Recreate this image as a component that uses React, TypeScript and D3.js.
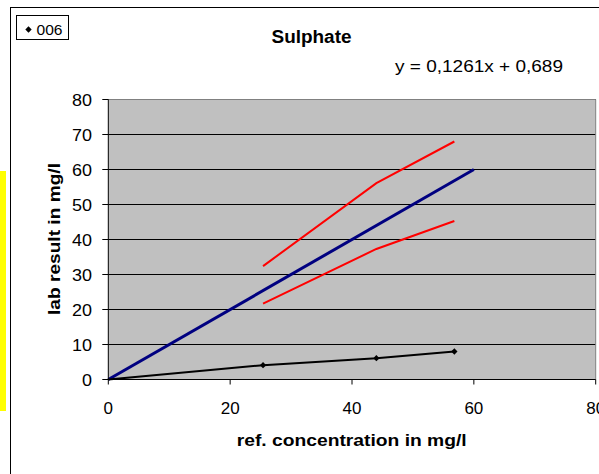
import React from "react";
import * as d3 from "d3";

const xTicks = [0, 20, 40, 60, 80];
const yTicks = [0, 10, 20, 30, 40, 50, 60, 70, 80];

const measuredX = [0, 25.4, 44.0, 56.8];
const measuredY = [0, 4.1, 6.1, 8.0];
const markerIdx = [1, 2, 3];

const idealX = [0, 60];
const idealY = [0, 60];

const upperX = [25.4, 44.0, 56.8];
const upperY = [32.4, 56.1, 68.0];

const lowerX = [25.4, 44.0, 56.8];
const lowerY = [21.7, 37.3, 45.3];

const titleText = "Sulphate";
const equationText = "y = 0,1261x + 0,689";
const xTitle = "ref. concentration in mg/l";
const yTitle = "lab result in mg/l";
const legendLabel = "006";

const FONT = "'Liberation Sans', Arial, sans-serif";

export default function App() {
  const W = 599, H = 474;
  const x = d3.scaleLinear().domain([0, 80]).range([108.3, 595.7]);
  const y = d3.scaleLinear().domain([0, 80]).range([379.5, 99.5]);

  const line = d3
    .line<[number, number]>()
    .x((d) => x(d[0]))
    .y((d) => y(d[1]));

  const pts = (xs: number[], ys: number[]) => xs.map((v, i) => [v, ys[i]] as [number, number]);

  const diamond = d3.symbol().type(d3.symbolSquare).size(20)();

  const left = x(0), right = x(80), top = y(80), bottom = y(0);

  return (
    <svg
      width={W}
      height={H}
      style={{ position: "absolute", left: 0, top: 0, background: "#fff" }}
      fontFamily={FONT}
    >
      <rect x={0} y={0} width={W} height={H} fill="#fff" />
      {/* yellow strip */}
      <rect x={0} y={171} width={6} height={240} fill="#FFFF00" />
      {/* chart frame */}
      <rect x={10.5} y={7.5} width={W + 20} height={H + 20} fill="none" stroke="#000" strokeWidth={1} />

      {/* legend */}
      <rect x={16.5} y={15.5} width={52} height={24} fill="#fff" stroke="#000" strokeWidth={1} />
      <path d={diamond} transform={`translate(28.5,29.5) rotate(45)`} fill="#000" />
      <text x={36.5} y={34.5} fontSize={15} fill="#000" textLength={26} lengthAdjust="spacingAndGlyphs">
        {legendLabel}
      </text>

      {/* titles */}
      <text x={311.5} y={42.7} fontSize={18} fontWeight="bold" textAnchor="middle" textLength={80} lengthAdjust="spacingAndGlyphs">
        {titleText}
      </text>
      <text x={395} y={71.5} fontSize={16} textLength={168} lengthAdjust="spacingAndGlyphs">
        {equationText}
      </text>

      {/* plot area */}
      <rect x={left} y={top} width={right - left} height={bottom - top} fill="#C0C0C0" />
      {yTicks.filter((t) => t !== 0).map((t) => (
        <line key={"g" + t} x1={left} x2={right} y1={y(t)} y2={y(t)} stroke="#000" strokeWidth={1} />
      ))}
      <path
        d={`M${left},${top} H${right} V${bottom}`}
        fill="none"
        stroke="#808080"
        strokeWidth={1}
      />

      {/* series */}
      <path d={line(pts(idealX, idealY)) || ""} fill="none" stroke="#000080" strokeWidth={3} />
      <path d={line(pts(upperX, upperY)) || ""} fill="none" stroke="#FF0000" strokeWidth={2} />
      <path d={line(pts(lowerX, lowerY)) || ""} fill="none" stroke="#FF0000" strokeWidth={2} />
      <path d={line(pts(measuredX, measuredY)) || ""} fill="none" stroke="#000" strokeWidth={2} />
      {markerIdx.map((i) => (
        <path key={"m" + i} d={diamond} transform={`translate(${x(measuredX[i])},${y(measuredY[i])}) rotate(45)`} fill="#000" />
      ))}

      {/* axes */}
      <line x1={left} x2={left} y1={top} y2={bottom} stroke="#000" strokeWidth={1} />
      <line x1={left} x2={right} y1={bottom} y2={bottom} stroke="#000" strokeWidth={1} />
      {yTicks.map((t) => (
        <g key={"yt" + t}>
          <line x1={left - 6} x2={left} y1={y(t)} y2={y(t)} stroke="#000" strokeWidth={1} />
          <text x={92} y={y(t)} dy="0.36em" fontSize={17} textAnchor="end" textLength={t === 0 ? 10 : 20} lengthAdjust="spacingAndGlyphs">
            {t}
          </text>
        </g>
      ))}
      {xTicks.map((t) => (
        <g key={"xt" + t}>
          <line x1={x(t)} x2={x(t)} y1={bottom} y2={bottom + 5} stroke="#000" strokeWidth={1} />
          <text x={x(t)} y={408} dy="0.36em" fontSize={17} textAnchor="middle">
            {t}
          </text>
        </g>
      ))}

      {/* axis titles */}
      <text x={351.7} y={446} fontSize={17} fontWeight="bold" textAnchor="middle" textLength={230} lengthAdjust="spacingAndGlyphs">
        {xTitle}
      </text>
      <text
        transform={`translate(60,239) rotate(-90)`}
        fontSize={17}
        fontWeight="bold"
        textAnchor="middle"
        textLength={152}
        lengthAdjust="spacingAndGlyphs"
      >
        {yTitle}
      </text>
    </svg>
  );
}
